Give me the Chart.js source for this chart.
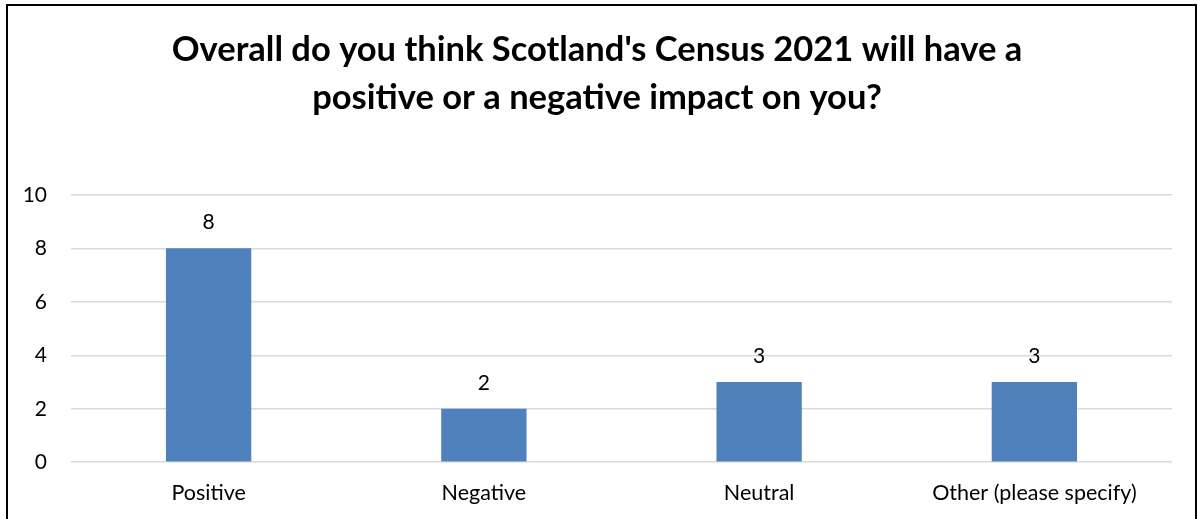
<!DOCTYPE html>
<html>
<head>
<meta charset="utf-8">
<script src="https://cdn.jsdelivr.net/npm/chart.js@4/dist/chart.umd.min.js"></script>
<style>
  html, body { margin: 0; padding: 0; background: #fff; }
  #wrap { position: relative; width: 1197px; height: 519px; overflow: hidden; }
  #frame { position: absolute; left: 6px; top: 4px; width: 1187px; height: 540px; border: 2px solid #000; pointer-events: none; }
</style>
</head>
<body>
<div id="wrap">
  <canvas id="chart_impact" width="1197" height="523"></canvas>
  <div id="frame"></div>
</div>
<script>
const categories = ['Positive', 'Negative', 'Neutral', 'Other (please specify)'];
const counts = [8, 2, 3, 3];
const yTicks = [0, 2, 4, 6, 8, 10];

// value labels above each bar
const valueLabels = {
    id: 'valueLabels',
    afterDatasetsDraw(chart) {
        const ctx = chart.ctx;
        const meta = chart.getDatasetMeta(0);
        ctx.save();
        ctx.font = '21px Lato';
        ctx.fillStyle = '#000';
        ctx.textAlign = 'center';
        ctx.textBaseline = 'middle';
        meta.data.forEach((bar, i) => {
            ctx.fillText(counts[i], bar.x, bar.y - 26);
        });
        ctx.restore();
    }
};

new Chart(
    document.getElementById('chart_impact'),
    {
        type: 'bar',
        data: {
            labels: categories,
            datasets: [
                {
                    label: 'Count',
                    data: counts,
                    backgroundColor: '#4f81bd',
                    categoryPercentage: 1,
                    barPercentage: 0.31
                }
            ]
        },
        options: {
            responsive: false,
            animation: false,
            layout: { padding: { left: 22, right: 25, top: 0, bottom: 0 } },
            plugins: {
                legend: { display: false },
                tooltip: { enabled: false },
                title: {
                    display: true,
                    text: ["Overall do you think Scotland's Census 2021 will have a", 'positive or a negative impact on you?'],
                    color: '#000',
                    font: { family: 'Lato', size: 34.5, weight: 'bold', lineHeight: 1.39 },
                    padding: { top: 26, bottom: 73 }
                }
            },
            scales: {
                x: {
                    grid: { display: false, drawTicks: false },
                    border: { display: false },
                    ticks: { color: '#000', font: { family: 'Lato', size: 21.5, lineHeight: 1.2 }, padding: 17.5 }
                },
                y: {
                    min: 0,
                    max: 10,
                    afterBuildTicks(scale) {
                        scale.ticks = yTicks.map(v => ({ value: v }));
                    },
                    afterFit(scale) {
                        scale.width = 49;
                    },
                    grid: { color: '#d9d9d9', lineWidth: 1.5, drawTicks: false },
                    border: { display: false },
                    ticks: { color: '#000', font: { family: 'Lato', size: 21 }, padding: 24 }
                }
            }
        },
        plugins: [valueLabels]
    }
);
</script>
</body>
</html>
